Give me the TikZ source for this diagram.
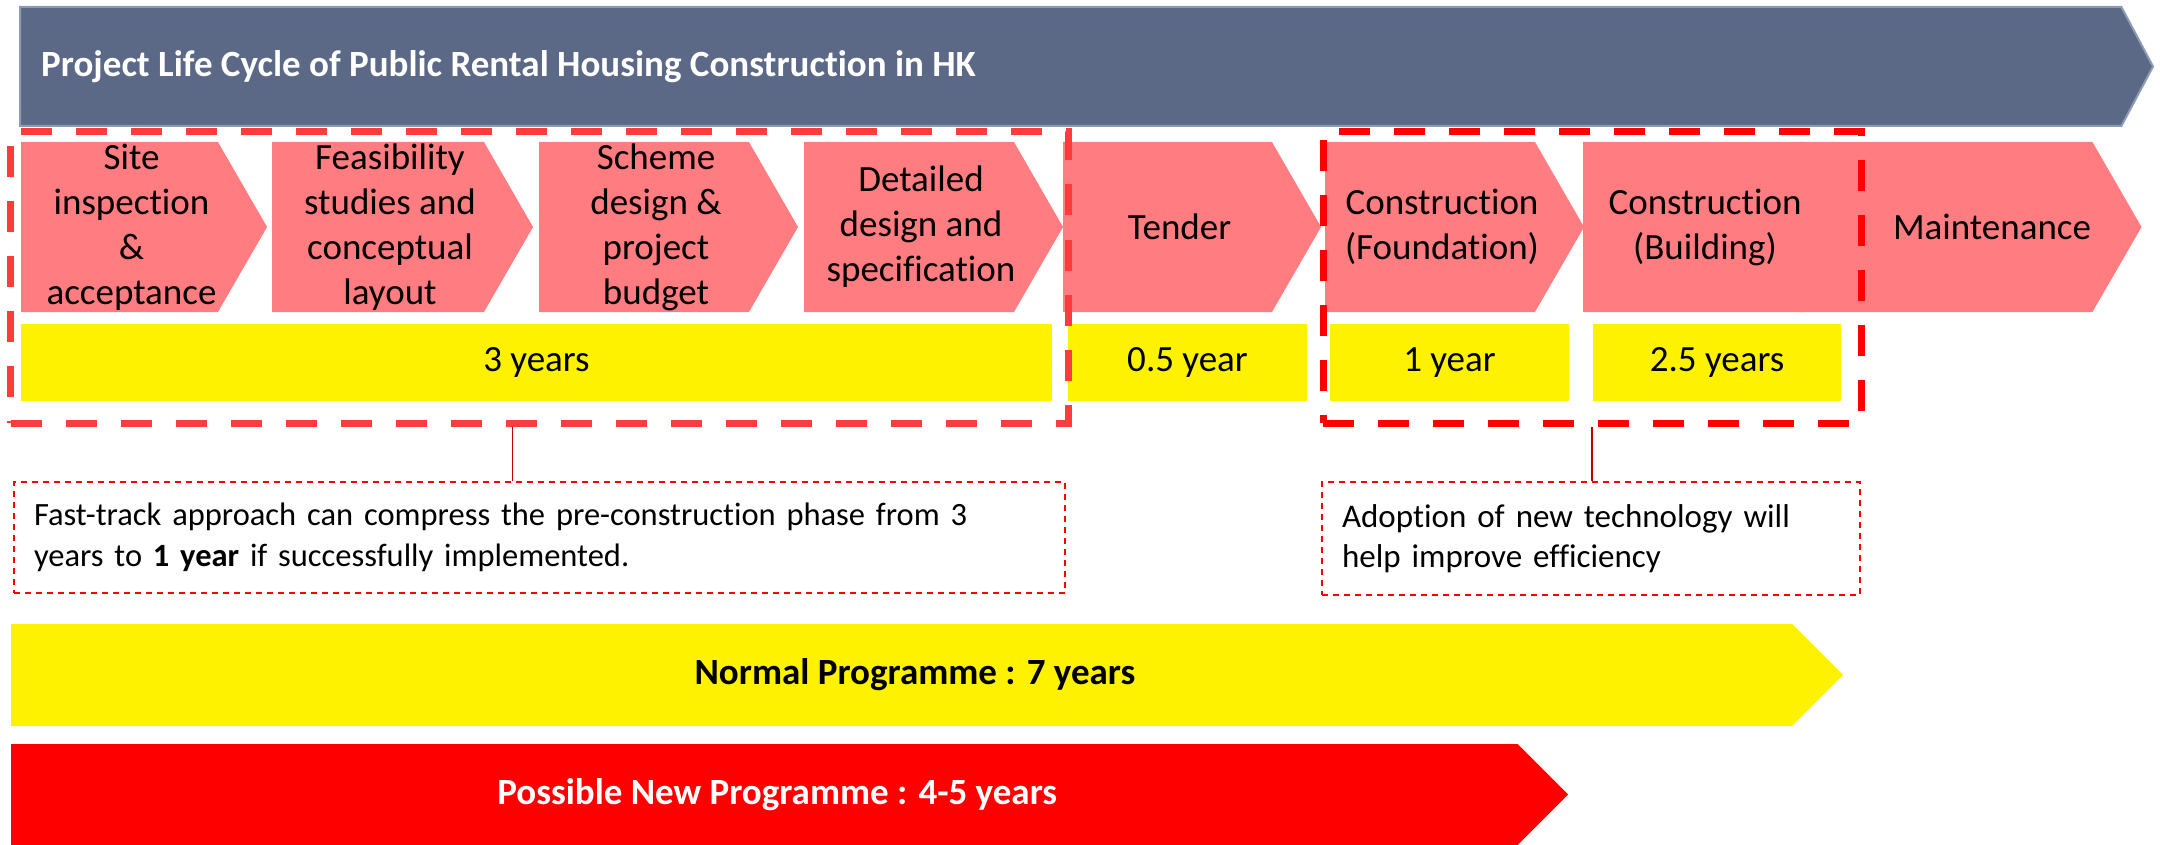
\documentclass[tikz,border=0pt]{standalone}
\usepackage{fontspec}
\setmainfont{Carlito}[Ligatures=NoCommon]
\usetikzlibrary{shapes,positioning,calc}

\definecolor{bannerblue}{RGB}{91,105,135}
\definecolor{bannerline}{RGB}{140,155,180}
\definecolor{stagepink}{RGB}{255,124,128}
\definecolor{boxred}{RGB}{255,60,60}

\tikzset{
  stage/.style={signal, signal to=east, signal pointer angle=120, fill=stagepink, minimum height=170pt, inner sep=0pt},
  caption/.style={xshift=12pt, align=center, inner sep=0pt, font=\fontsize{37}{45}\selectfont},
  span/.style={rectangle, fill=yellow, minimum height=77pt, inner sep=0pt, font=\fontsize{37}{45}\selectfont},
  phase/.style={rectangle, line width=7pt, dash pattern=on 31pt off 24pt, inner sep=0pt},
  note/.style={rectangle, draw=red, line width=2pt, dash pattern=on 6pt off 5pt, inner sep=20pt, align=left, font=\fontsize{33}{40}\selectfont},
  pin/.style={draw=red!75!black, line width=1.5pt},
  programme/.style={signal, signal to=east, signal pointer angle=90, inner sep=0pt}
}

\begin{document}
\begin{tikzpicture}[x=1pt, y=-1pt]
\useasboundingbox (0,0) rectangle (2160,845);

% 标题
\node[signal, signal to=east, signal pointer angle=124, fill=bannerblue, draw=bannerline, line width=2pt, minimum width=2133pt, minimum height=119pt] (title) at (1070.7,66.5) {};
\node[anchor=west, text=white, inner sep=0pt, font=\fontsize{37}{45}\selectfont\bfseries] (titletext) at (41,67) {Project Life Cycle of Public Rental Housing Construction in HK};

% 阶段
\node[stage, minimum width=246pt, label={[caption]center:Site\\inspection\\\&\\acceptance}] (site) at (119.5,227) {};
\node[stage, minimum width=261pt, label={[caption]center:Feasibility\\studies and\\conceptual\\layout}] (feas) at (378,227) {};
\node[stage, minimum width=259pt, label={[caption]center:Scheme\\design \&\\project\\budget}] (scheme) at (644,227) {};
\node[stage, minimum width=259pt, label={[caption]center:Detailed\\design and\\specification}] (detail) at (909,227) {};
\node[stage, minimum width=258pt, label={[caption]center:Tender}] (tender) at (1167.5,227) {};
\node[stage, minimum width=259pt, label={[caption]center:Construction\\(Foundation)}] (found) at (1430,227) {};
\node[stage, minimum width=269pt, label={[caption]center:Construction\\(Building)}] (build) at (1693,227) {};
\node[stage, signal from=west, minimum width=343pt, label={[caption, xshift=10pt]center:Maintenance}] (maint) at (1970,227) {};

% 工期
\node[span, minimum width=1031pt] (prespan) at (536.5,362.5) {3 years};
\node[span, minimum width=239pt] (tenderspan) at (1187.5,362.5) {0.5 year};
\node[span, minimum width=239pt] (foundspan) at (1449.5,362.5) {1 year};
\node[span, minimum width=248pt] (buildspan) at (1717,362.5) {2.5 years};

% 虚线框
\node[phase, draw=boxred, minimum width=1057.5pt, minimum height=291pt] (preconst) at (539.25,277.5) {};
\node[phase, draw=red, minimum width=538pt, minimum height=291pt] (constr) at (1592,277.5) {};

% 说明
\node[note, font=\fontsize{32.5}{41}\selectfont, minimum width=1051pt, minimum height=111pt, text width=1011pt] (fastnote) at (539.5,537.5) {Fast-track approach can compress the pre-construction phase from 3\\years to \textbf{1 year} if successfully implemented.};
\node[note, minimum width=538pt, minimum height=113pt, text width=498pt] (technote) at (1591,538.5) {Adoption of new technology will\\help improve efficiency};
\draw[pin] ([xshift=-27pt]preconst.south) -- ([xshift=-27pt]preconst.south |- fastnote.north);
\draw[pin] (constr.south) -- (constr.south |- technote.north);

% 总工期
\node[programme, fill=yellow, minimum width=1832pt, minimum height=102pt, label={[caption, xshift=1.5pt, font=\fontsize{37}{45}\selectfont\bfseries]center:Normal Programme : 7 years}] (normal) at (901.5,675) {};
\node[programme, fill=red, minimum width=1557pt, minimum height=101pt, label={[caption, xshift=1pt, text=white, font=\fontsize{37}{45}\selectfont\bfseries]center:Possible New Programme : 4-5 years}] (newprog) at (764.25,794.5) {};
\end{tikzpicture}
\end{document}
